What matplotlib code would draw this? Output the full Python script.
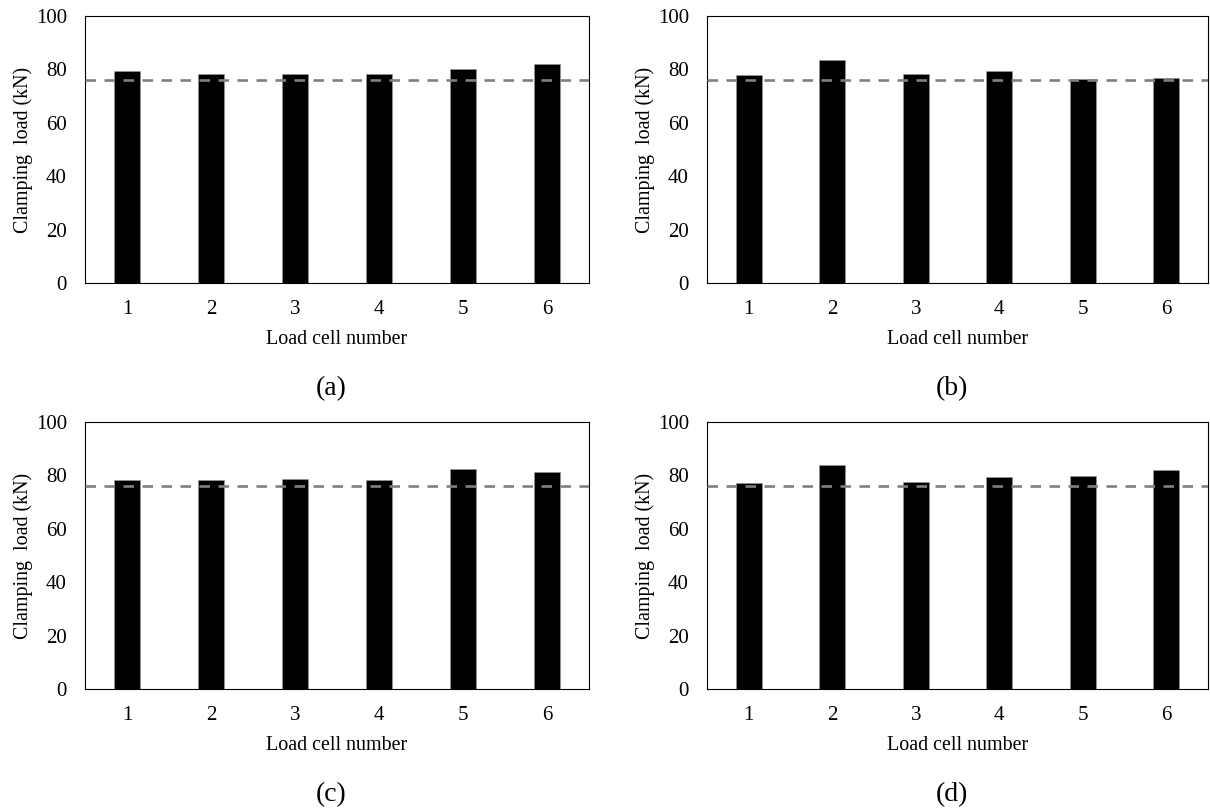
import matplotlib
matplotlib.use("Agg")
import matplotlib.pyplot as plt

cells = [1, 2, 3, 4, 5, 6]
load_a = [79.4, 78.3, 78.3, 78.3, 80.1, 82.1]
load_b = [77.9, 83.6, 78.3, 79.4, 76.3, 76.9]
load_c = [78.1, 78.1, 78.6, 78.1, 82.5, 81.4]
load_d = [77.2, 83.9, 77.7, 79.5, 79.9, 81.9]
target_load = 76
y_ticks = [0, 20, 40, 60, 80, 100]

W, H = 1210, 810


def px_axes(fig, left, top, right, bottom):
    # pixel box -> figure fraction
    return fig.add_axes([left / W, 1 - bottom / H, (right - left) / W, (bottom - top) / H])


def draw_panel(ax, loads):
    ax.bar(cells, loads, width=0.31, color="black", edgecolor="#9a9a9a", linewidth=0.4, zorder=2)
    ax.axhline(target_load, color="#808080", linewidth=1.9, dashes=(4, 3.2), zorder=3)
    ax.set_xlim(0.5, 6.5)
    ax.set_ylim(0, 100)
    ax.set_xticks(cells)
    ax.set_yticks(y_ticks)
    ax.tick_params(length=0, labelsize=15)
    ax.tick_params(axis="y", pad=13)
    ax.tick_params(axis="x", pad=12)
    for s in ax.spines.values():
        s.set_linewidth(0.8)
    ax.set_xlabel("Load cell number", fontsize=14.4, labelpad=8.5)
    ax.set_ylabel("Clamping  load (kN)", fontsize=14.4, labelpad=2)


def main():
    plt.rcParams["font.family"] = ["Liberation Serif", "DejaVu Serif"]
    fig = plt.figure(figsize=(W / 100, H / 100), dpi=100)

    panels = [
        (load_a, (85, 16, 589, 283), "(a)"),
        (load_b, (707, 16, 1208, 283), "(b)"),
        (load_c, (85, 422, 589, 689), "(c)"),
        (load_d, (707, 422, 1208, 689), "(d)"),
    ]
    for loads, box, tag in panels:
        ax = px_axes(fig, *box)
        draw_panel(ax, loads)
        cx = (box[0] + box[2]) / 2 - 6
        fig.text(cx / W, 1 - (box[3] + 106) / H, tag, ha="center", va="center", fontsize=20)

    fig.savefig("out.png", dpi=100)


if __name__ == '__main__':
    main()
